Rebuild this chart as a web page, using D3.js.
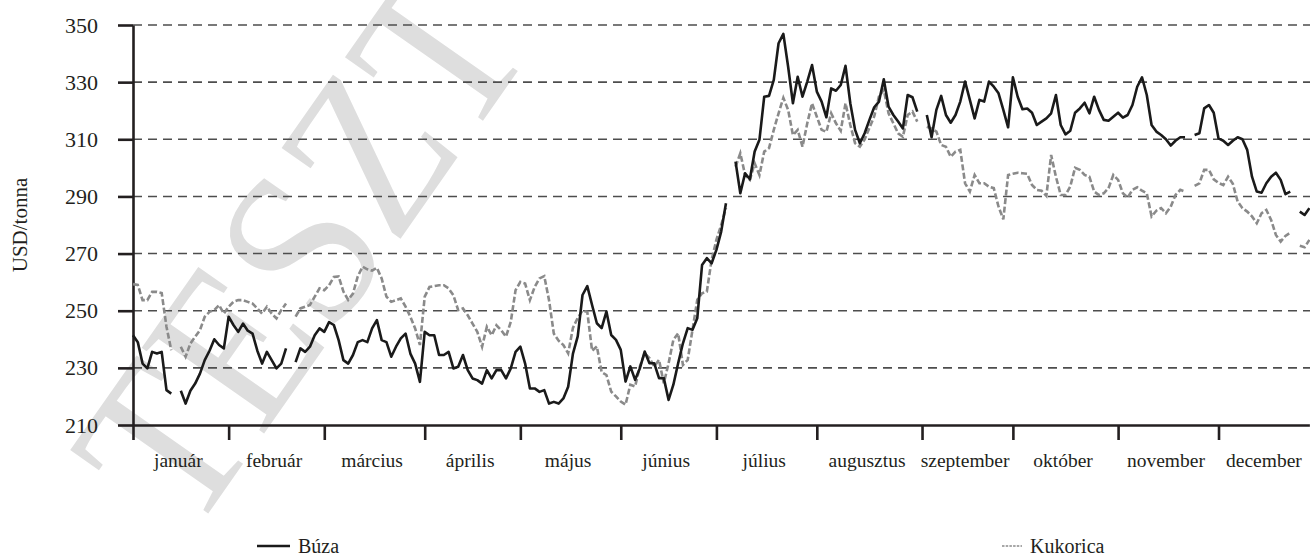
<!DOCTYPE html>
<html>
<head>
<meta charset="utf-8">
<script src="https://cdn.jsdelivr.net/npm/d3@7"></script>
<style>
  body { margin: 0; background: #fff; }
  svg { display: block; }
  text { font-family: "Liberation Serif", "Times New Roman", serif; fill: #231f20; }
</style>
</head>
<body>
<div id="chart"></div>
<script>
// month labels and number of trading days shown per month
var months = ["január", "február", "március", "április", "május", "június",
              "július", "augusztus", "szeptember", "október", "november", "december"];
var monthDays = [20, 20, 21, 20, 21, 20, 21, 22, 19, 22, 21, 20];
var yTicks = [210, 230, 250, 270, 290, 310, 330, 350];

// daily prices, USD/tonna (null = holiday, no quote)
var buza = [
  241.4, 239, 231.5, 229.8, 235.6, 235, 235.6, 222.2, 221, null, 222, 217.5, 222, 224.5, 228, 232.7, 236, 240, 238, 236.8,
  247.9, 245, 242.6, 245.5, 243, 242, 236, 231.5, 235.6, 232.7, 229.8, 231.5, 236.8, null, 232, 236.8, 235.6, 237.4, 241.4, 243.8,
  242.6, 246, 245, 239.7, 232.7, 231.5, 234.5, 239, 239.7, 239, 243.8, 246.7, 239.7, 239, 233.9, 237.4, 240.3, 242, 235, 231.5, 225.1,
  242.6, 241.4, 241.4, 234.5, 234.5, 235.6, 229.8, 230.4, 234.5, 229.2, 226.3, 225.7, 224.5, 229.2, 226.3, 229.2, 229.2, 226.3, 229.8, 235.6,
  237.4, 231.5, 222.8, 222.8, 221.6, 222.2, 217.5, 218.1, 217.5, 219.3, 223.4, 235, 241, 255.5, 258.6, 252, 245.6, 243.9, 249.7, 241.5, 239.8,
  236.3, 225.2, 230.5, 225.8, 229.9, 235.7, 231.6, 231.6, 226.4, 226.4, 218.8, 224.1, 231.6, 238.6, 243.9, 243.3, 247.4, 266, 268.4, 266.6,
  271.3, 277.7, 287.6, null, 302.2, 291.1, 298.1, 296, 305.7, 309.8, 324.9, 325.2, 330.8, 343.6, 346.9, 335.4, 322.6, 331.9, 324.9, 330.2, 336,
  326.7, 323.2, 317.7, 327.8, 327, 329, 335.7, 322.6, 313.3, 308.6, 312.1, 316.8, 321.2, 323.2, 331, 321.4, 318.5, 316.2, 313.8, 325.5, 324.7, 319.7,
  null, 318.5, 310.7, 320.3, 325.2, 318.5, 315.8, 318.5, 323.2, 330.2, 323.8, 317.3, 323.8, 323.2, 330.2, 328.4, 326.1, 320.3, 314.2,
  331.7, 324.9, 320.5, 320.8, 319.3, 315, 316.2, 317.3, 319.1, 325.5, 315, 311.7, 313, 319.3, 320.8, 322.8, 319.1, 324.9, 320.3, 316.8, 316.5, 317.9,
  319.3, 317.6, 318.5, 322, 328.4, 331.7, 325.5, 315, 312.7, 311.5, 310, 307.8, 309.5, 310.7, 310.7, null, 311.5, 312.1, 320.8, 322, 319.3,
  310.3, 309.5, 308, 309.5, 310.7, 310, 306.3, 296.9, 291.7, 291.3, 294.6, 296.9, 298.3, 295.8, 290.8, 291.7, null, 284.7, 283.5, 285.9
];
var kukorica = [
  259.3, 259, 253.7, 253.7, 256.6, 256.6, 256.2, 244.4, 236.2, null, 237.4, 233.9, 238.5, 240.9, 243.2, 247.9, 249.6, 250.2, 252, 249,
  251.4, 253.1, 253.7, 253.7, 253.1, 252.5, 250.8, 249, 251.4, 249, 247.3, 250.2, 252.5, null, 247.9, 250.8, 251.4, 252, 254.9, 257.8,
  257.2, 258.9, 261.8, 262, 256.7, 253.8, 256, 262, 265.4, 264.5, 264, 265, 261.3, 254.9, 253.1, 253.7, 254.3, 251.4, 247.9, 243.8, 238,
  254.9, 258.3, 258.6, 258.9, 258.9, 257.8, 255.4, 250.2, 250.8, 248.4, 245.5, 242.6, 237.4, 244.4, 241.4, 244.9, 243.2, 240.9, 246.1, 257.2,
  260.1, 259.5, 253.7, 258.3, 261.3, 262.1, 253.7, 242, 239.5, 238, 235.1, 244, 247.5, 250, 249.6, 236, 237.5, 228.5, 227.5, 221.7, 220,
  218.2, 217.1, 224.1, 223.5, 230.5, 235.1, 233.4, 230.5, 232.8, 224.6, 231.6, 239.8, 242.1, 231, 232.8, 243.3, 253.8, 256.1, 256.7, 267.8,
  274.8, 280, 286, null, 300.4, 305.1, 297.5, 295.8, 301.6, 297.5, 305.7, 306.9, 313.3, 319.1, 324.5, 320.3, 311.5, 313.3, 307.4, 315.6, 322.6,
  317.9, 313.3, 312.6, 319.1, 315.6, 313, 322.6, 315, 308.6, 307.4, 310, 314, 318, 325, 327.3, 319.1, 315.6, 312.1, 310.9, 318.5, 319.7, 316.2,
  null, 314.4, 313.8, 312.7, 308, 307.4, 303.9, 305.7, 306.3, 294.6, 291.7, 297.5, 294.6, 294.6, 293.4, 292.9, 286.4, 282, 297.5,
  297.9, 298.3, 298.1, 297.9, 294, 292.3, 292, 290.2, 304.5, 296.9, 290.5, 290.5, 293.5, 300, 299.3, 297.5, 296.9, 291.7, 290.5, 291.1, 292.9, 297.5,
  295.8, 291.1, 289.6, 292.3, 293.2, 292, 291.1, 283, 285, 285.9, 284.1, 286.4, 290.5, 292.3, 291.7, null, 293.7, 294.6, 299.3, 299.3, 296,
  294.7, 294, 296.9, 294.4, 288.2, 285.9, 284.7, 283, 280.6, 284.1, 285.3, 281.8, 276.5, 274.2, 276.2, 277.3, null, 272.7, 272.2, 274.8
];

function draw(){
    var width = 1310, height = 557;

    var svg = d3.select("#chart")
      .append("svg")
        .attr("width", width)
        .attr("height", height);

    var n = buza.length;
    var x = d3.scaleLinear()
        .domain([0, n - 1])
        .range([133, 133 + (n - 1) * 4.782]);
    var y = d3.scaleLinear()
        .domain([210, 350])
        .range([425, 25]);

    // index of first day of each month
    var starts = [];
    monthDays.reduce(function(acc, d){ starts.push(acc); return acc + d; }, 0);

    // watermark behind the chart, slightly condensed
    svg.append("text")
        .attr("transform", "translate(300,248) rotate(-55) scale(0.88,1)")
        .attr("text-anchor", "middle")
        .attr("dominant-baseline", "central")
        .style("font-size", "228px")
        .style("fill", "#dedede")
        .text("TESZT");

    // dashed grid
    svg.append("g")
      .selectAll("line")
      .data(yTicks.slice(1))
      .enter()
      .append("line")
        .attr("x1", 133)
        .attr("x2", width)
        .attr("y1", function(d){ return y(d); })
        .attr("y2", function(d){ return y(d); })
        .attr("stroke", "#4d4d4d")
        .attr("stroke-width", 1.6)
        .attr("stroke-dasharray", "9,6");

    // Y axis
    var yAxis = svg.append("g")
        .attr("transform", "translate(133,0)")
        .call(d3.axisLeft(y).tickValues(yTicks).tickSize(15).tickSizeOuter(0).tickPadding(20));
    yAxis.selectAll("text").style("font-size", "22px").style("fill", "#231f20");

    // X axis (month boundaries)
    var xAxis = svg.append("g")
        .attr("transform", "translate(0,425)")
        .call(d3.axisBottom(x).tickValues(starts).tickSize(15).tickSizeOuter(0).tickFormat(""));

    svg.selectAll(".domain, .tick line")
        .attr("stroke", "#231f20")
        .attr("stroke-width", 2.6);

    // month labels centred between ticks
    svg.append("g")
      .selectAll("text")
      .data(months)
      .enter()
      .append("text")
        .attr("x", function(d, i){ return x(starts[i] + monthDays[i] / 2 - 0.5); })
        .attr("y", 467)
        .attr("text-anchor", "middle")
        .style("font-size", "19.5px")
        .text(function(d){ return d; });

    // axis title
    svg.append("text")
        .attr("transform", "translate(27,225) rotate(-90)")
        .attr("text-anchor", "middle")
        .style("font-size", "21px")
        .text("USD/tonna");

    var line = d3.line()
        .defined(function(d){ return d != null; })
        .x(function(d, i){ return x(i); })
        .y(function(d){ return y(d); });

    svg.append("path")
        .datum(kukorica)
        .attr("d", line)
        .attr("fill", "none")
        .attr("stroke", "#8a8a8a")
        .attr("stroke-width", 2.6)
        .attr("stroke-dasharray", "6,2.5");

    svg.append("path")
        .datum(buza)
        .attr("d", line)
        .attr("fill", "none")
        .attr("stroke", "#1a1a1a")
        .attr("stroke-width", 2.6)
        .attr("stroke-linejoin", "round");

    // legend
    var legend = [
        {name: "Búza", x: 257, len: 33, color: "#1a1a1a", dash: null},
        {name: "Kukorica", x: 1002, len: 20, color: "#8a8a8a", dash: "2.5,1.2"}
    ];
    var lg = svg.append("g")
      .selectAll("g")
      .data(legend)
      .enter()
      .append("g")
        .attr("transform", function(d){ return "translate(" + d.x + ",546)"; });
    lg.append("line")
        .attr("x1", 0).attr("x2", function(d){ return d.len; })
        .attr("stroke", function(d){ return d.color; })
        .attr("stroke-width", function(d){ return d.dash ? 1.6 : 2.5; })
        .attr("stroke-dasharray", function(d){ return d.dash; });
    lg.append("text")
        .attr("x", function(d){ return d.len + 8; })
        .attr("y", 7)
        .style("font-size", "20px")
        .text(function(d){ return d.name; });
}

draw();
</script>
</body>
</html>
